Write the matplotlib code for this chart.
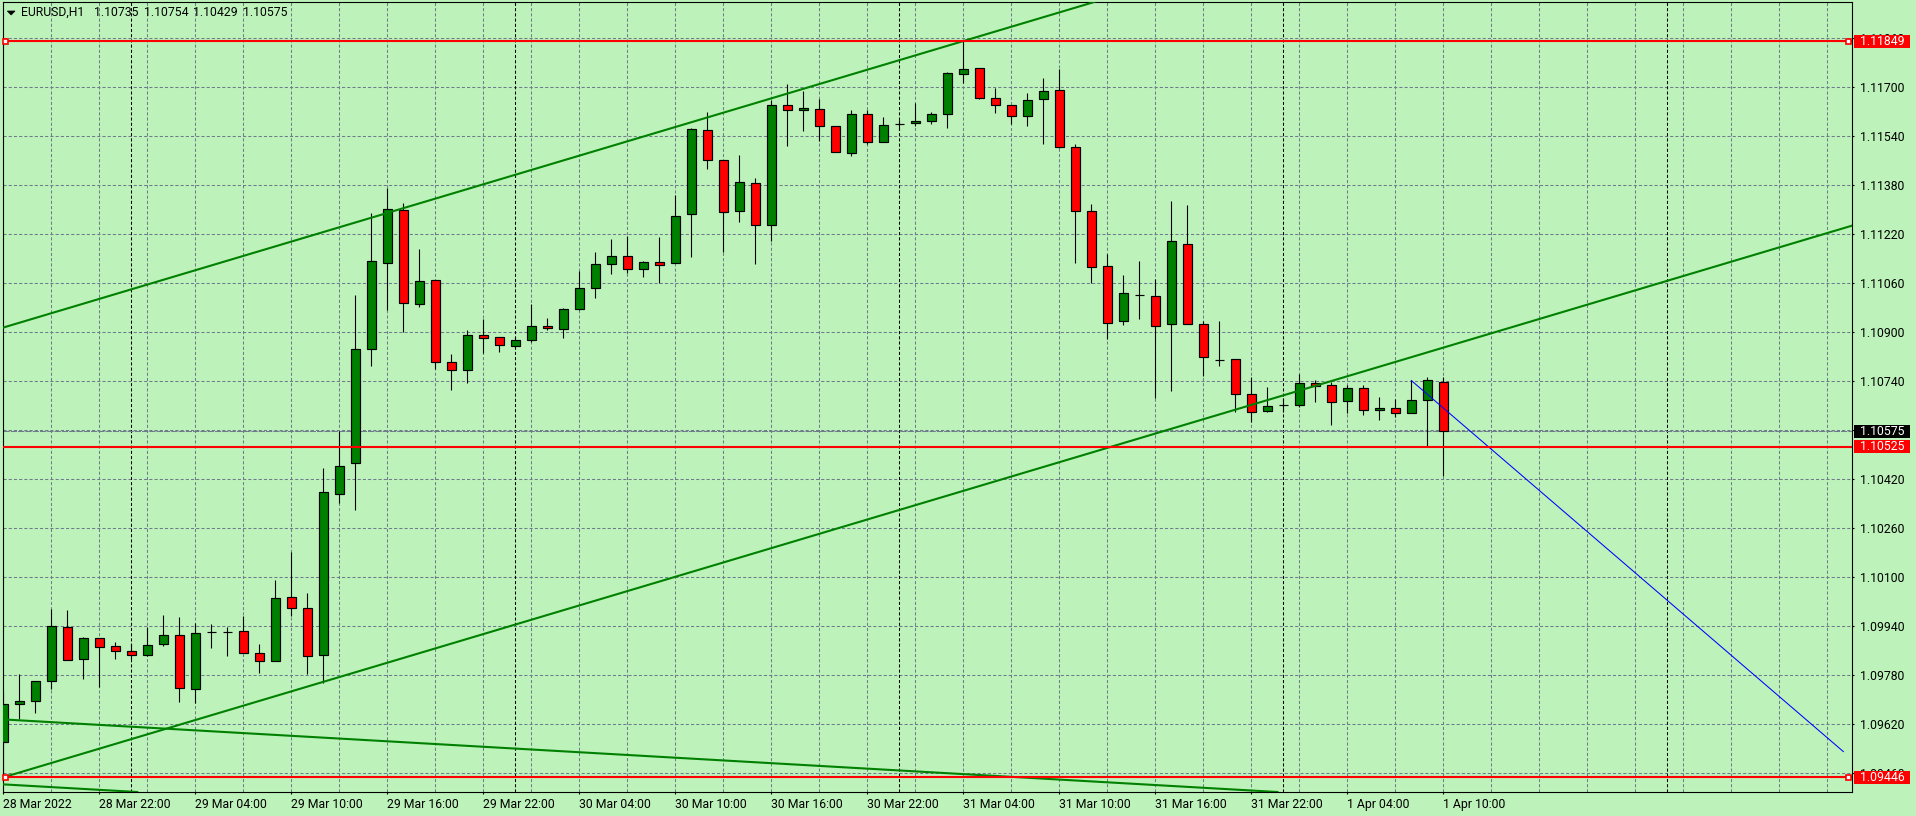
import matplotlib
matplotlib.use("Agg")
import matplotlib.pyplot as plt
import numpy as np
from matplotlib.patches import Rectangle, Polygon
from matplotlib.transforms import IdentityTransform

W, H = 1916, 816
BG = "#bdf3ba"
GRID = "#6f7c8c"
BULL = "#008000"
BEAR = "#ff0000"
FONT = ["Roboto", "DejaVu Sans"]
FS = 8.8

# EURUSD H1 bars, bar 0 = 28 Mar 2022 16:00
opens = [1.09560, 1.09684, 1.09694, 1.09759, 1.09936, 1.09831, 1.09900, 1.09874, 1.09857, 1.09844,
         1.09880, 1.09910, 1.09733, 1.09920, 1.09920, 1.09923, 1.09851, 1.09825, 1.10034, 1.09998,
         1.09844, 1.10370, 1.10471, 1.10845, 1.11126, 1.11297, 1.10992, 1.11068, 1.10801, 1.10774,
         1.10889, 1.10882, 1.10853, 1.10872, 1.10918, 1.10908, 1.10974, 1.11042, 1.11120, 1.11146,
         1.11104, 1.11127, 1.11124, 1.11284, 1.11558, 1.11460, 1.11293, 1.11385, 1.11248, 1.11639,
         1.11623, 1.11626, 1.11571, 1.11483, 1.11610, 1.11519, 1.11578, 1.11581, 1.11587, 1.11610,
         1.11741, 1.11760, 1.11662, 1.11639, 1.11603, 1.11659, 1.11688, 1.11502, 1.11293, 1.11114,
         1.10934, 1.11020, 1.11016, 1.10925, 1.11186, 1.10925, 1.10809, 1.10810, 1.10696, 1.10641,
         1.10660, 1.10660, 1.10732, 1.10725, 1.10673, 1.10716, 1.10644, 1.10650, 1.10634, 1.10677,
         1.10735]
highs = [1.09724, 1.09783, 1.09759, 1.09997, 1.09991, 1.09903, 1.09900, 1.09888, 1.09880, 1.09938,
         1.09976, 1.09969, 1.09951, 1.09946, 1.09938, 1.09974, 1.09881, 1.10090, 1.10180, 1.10047,
         1.10456, 1.10576, 1.11020, 1.11287, 1.11369, 1.11320, 1.11170, 1.11068, 1.10828, 1.10905,
         1.10941, 1.10882, 1.10884, 1.10992, 1.10944, 1.10977, 1.11098, 1.11160, 1.11202, 1.11212,
         1.11130, 1.11209, 1.11348, 1.11564, 1.11617, 1.11460, 1.11476, 1.11401, 1.11657, 1.11708,
         1.11685, 1.11659, 1.11571, 1.11623, 1.11623, 1.11600, 1.11591, 1.11646, 1.11617, 1.11747,
         1.11849, 1.11760, 1.11695, 1.11639, 1.11679, 1.11727, 1.11757, 1.11512, 1.11316, 1.11153,
         1.11085, 1.11131, 1.11072, 1.11326, 1.11314, 1.10934, 1.10934, 1.10810, 1.10752, 1.10719,
         1.10684, 1.10761, 1.10742, 1.10735, 1.10726, 1.10725, 1.10686, 1.10681, 1.10742, 1.10752,
         1.10754]
lows = [1.09446, 1.09635, 1.09657, 1.09735, 1.09828, 1.09768, 1.09741, 1.09832, 1.09832, 1.09842,
        1.09876, 1.09693, 1.09690, 1.09869, 1.09843, 1.09851, 1.09787, 1.09825, 1.09973, 1.09784,
        1.09754, 1.10342, 1.10319, 1.10789, 1.10970, 1.10900, 1.10982, 1.10778, 1.10711, 1.10734,
        1.10832, 1.10835, 1.10846, 1.10866, 1.10905, 1.10879, 1.10970, 1.11009, 1.11088, 1.11091,
        1.11078, 1.11058, 1.11124, 1.11143, 1.11433, 1.11159, 1.11258, 1.11120, 1.11195, 1.11506,
        1.11555, 1.11522, 1.11486, 1.11473, 1.11512, 1.11519, 1.11559, 1.11571, 1.11577, 1.11564,
        1.11711, 1.11659, 1.11613, 1.11577, 1.11571, 1.11512, 1.11499, 1.11126, 1.11059, 1.10877,
        1.10921, 1.10943, 1.10685, 1.10708, 1.10925, 1.10756, 1.10789, 1.10637, 1.10605, 1.10637,
        1.10637, 1.10654, 1.10670, 1.10595, 1.10634, 1.10628, 1.10611, 1.10621, 1.10634, 1.10523,
        1.10429]
closes = [1.09684, 1.09694, 1.09759, 1.09939, 1.09828, 1.09900, 1.09870, 1.09857, 1.09844, 1.09877,
          1.09910, 1.09737, 1.09916, 1.09920, 1.09920, 1.09851, 1.09825, 1.10030, 1.09998, 1.09841,
          1.10376, 1.10461, 1.10843, 1.11130, 1.11300, 1.10995, 1.11065, 1.10801, 1.10774, 1.10889,
          1.10879, 1.10856, 1.10872, 1.10918, 1.10912, 1.10974, 1.11042, 1.11120, 1.11146, 1.11104,
          1.11127, 1.11117, 1.11277, 1.11561, 1.11460, 1.11290, 1.11388, 1.11248, 1.11639, 1.11623,
          1.11630, 1.11571, 1.11486, 1.11610, 1.11519, 1.11574, 1.11578, 1.11587, 1.11610, 1.11744,
          1.11757, 1.11662, 1.11639, 1.11603, 1.11656, 1.11685, 1.11502, 1.11293, 1.11111, 1.10928,
          1.11026, 1.11020, 1.10918, 1.11195, 1.10925, 1.10817, 1.10809, 1.10696, 1.10637, 1.10657,
          1.10660, 1.10732, 1.10722, 1.10670, 1.10716, 1.10644, 1.10650, 1.10634, 1.10677, 1.10742,
          1.10575]

time_labels = ["28 Mar 2022", "28 Mar 22:00", "29 Mar 04:00", "29 Mar 10:00", "29 Mar 16:00",
               "29 Mar 22:00", "30 Mar 04:00", "30 Mar 10:00", "30 Mar 16:00", "30 Mar 22:00",
               "31 Mar 04:00", "31 Mar 10:00", "31 Mar 16:00", "31 Mar 22:00", "1 Apr 04:00",
               "1 Apr 10:00"]
price_ticks = [1.09460, 1.09620, 1.09780, 1.09940, 1.10100, 1.10260, 1.10420, 1.10580,
               1.10740, 1.10900, 1.11060, 1.11220, 1.11380, 1.11540, 1.11700, 1.11860]

red_levels = [1.11849, 1.10525, 1.09446]
marked_levels = [1.11849, 1.09446]
bid = 1.10575

# drawn objects: (bar, price) anchors
up_channel_bars = [0, 60]
up_channel_top = [1.10914, 1.11849]
up_channel_bottom = [1.09446, 1.10381]
down_channel_bars = [0, 40]
down_channel_top = [1.09635, 1.09516]
down_channel_bottom = [1.09423, 1.09304]
blue_bars = [88, 115]
blue_prices = [1.10741, 1.09530]

header_name = "EURUSD,H1"
header_ohlc = [1.10735, 1.10754, 1.10429, 1.10575]

n = len(opens)
xs = np.arange(n)
o = np.array(opens)
c = np.array(closes)

fig = plt.figure(figsize=(W / 100, H / 100), dpi=100, facecolor=BG)
ax = fig.add_axes([3 / W, (H - 792) / H, 1849 / W, 790 / H], facecolor=BG)
ax.set_xlim(-0.019, 115.54)
ax.set_ylim(1.093981, 1.119765)

dash = (0, (3, 2))
for v in price_ticks:
    ax.axhline(v, color=GRID, lw=0.75, ls=dash, zorder=0.5)
for b in range(0, 116, 3):
    ax.axvline(b, color=GRID, lw=0.75, ls=dash, zorder=0.5)
# day separators (midnight bars)
for b in range(8, 116, 24):
    ax.axvline(b, color="black", lw=0.75, ls=dash, zorder=0.6)
ax.axhline(bid, color=GRID, lw=0.75, ls=(0, (6, 1)), zorder=0.7)

# candles
ax.vlines(xs, lows, highs, color="black", lw=0.8, zorder=2)
colors = [BULL if cc > oo else (BEAR if cc < oo else "black") for oo, cc in zip(o, c)]
ax.bar(xs, c - o, bottom=o, width=0.6, color=colors, edgecolor="black", linewidth=0.85, zorder=3)

# objects
for top in (up_channel_top, up_channel_bottom):
    ax.axline((up_channel_bars[0], top[0]), (up_channel_bars[1], top[1]), color=BULL, lw=1.5, zorder=4)
for top in (down_channel_top, down_channel_bottom):
    ax.axline((down_channel_bars[0], top[0]), (down_channel_bars[1], top[1]), color=BULL, lw=1.5, zorder=4)
ax.plot(blue_bars, blue_prices, color="#0000ff", lw=0.75, zorder=4)
for v in red_levels:
    ax.axhline(v, color="#ff0000", lw=1.5, zorder=4)
for v in marked_levels:
    ax.plot([0.001, 0.998], [v, v], transform=ax.get_yaxis_transform(), ls="none", marker="s",
            ms=3.6, mfc="white", mec="#ff0000", mew=1.2, zorder=5, clip_on=False)

# axes
for s in ax.spines.values():
    s.set_color("black")
    s.set_linewidth(0.8)
ax.set_xticks(range(0, n, 6))
ax.set_xticklabels(time_labels, ha="left", fontsize=FS, family=FONT)
ax.yaxis.tick_right()
ax.set_yticks(price_ticks)
ax.set_yticklabels([f"{v:.5f}" for v in price_ticks], fontsize=FS, family=FONT)
ax.tick_params(axis="x", length=1.5, width=0.8, pad=3, colors="black")
ax.tick_params(axis="y", length=1.5, width=0.8, pad=4.3, colors="black")

# price tags on the right scale
ident = IdentityTransform()
tags = [(v, "#ff0000") for v in red_levels] + [(bid, "black")]
for v, col in tags:
    ypx = ax.transData.transform((0, v))[1]
    fig.add_artist(Rectangle((1854, ypx - 6.5), 56, 13, transform=ident, facecolor=col,
                             edgecolor="none", zorder=10))
    fig.text(1860, ypx, f"{v:.5f}", transform=ident, va="center", ha="left", color="white",
             fontsize=FS, family=FONT, zorder=11)

# header
fig.add_artist(Polygon([(7.3, H - 11), (15, H - 11), (11.15, H - 15)], closed=True,
                       transform=ident, facecolor="black", edgecolor="black", lw=0.5, zorder=10))
fig.text(21.3, H - 12.7, header_name, transform=ident, va="center", ha="left",
         fontsize=FS, family=FONT, zorder=11)
for i, v in enumerate(header_ohlc):
    fig.text(93.7 + 49.9 * i, H - 12.7, f"{v:.5f}", transform=ident, va="center", ha="left",
             fontsize=FS, family=FONT, zorder=11)

fig.savefig("out.png", dpi=100, facecolor=BG)
